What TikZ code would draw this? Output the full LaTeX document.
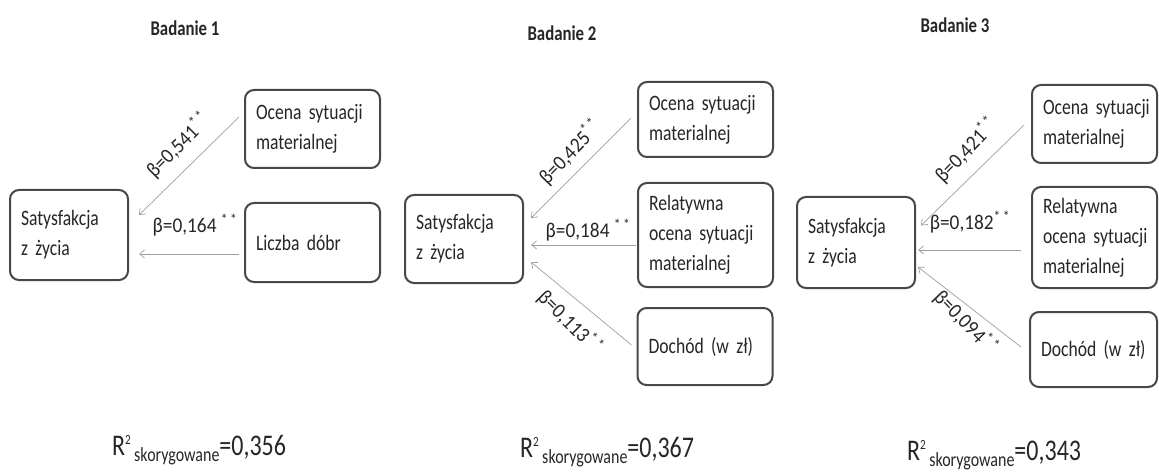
\documentclass[tikz,border=0pt]{standalone}
\usepackage{fontspec}
\setmainfont{Carlito}
\newfontfamily\cf[FakeStretch=0.8]{Carlito}
\newfontfamily\lf[FakeStretch=0.92]{Carlito}
\usetikzlibrary{arrows.meta}
\begin{document}
\begin{tikzpicture}[x=1pt,y=-1pt,
  box/.style={draw=black!72, line width=2pt, rounded corners=9pt, fill=white, align=left,
    inner xsep=11pt, inner ysep=0pt, font=\cf\fontsize{22}{30}\selectfont, anchor=center, text=black!85},
  arr/.style={draw=black!38, line width=0.7pt, -{Straight Barb[length=5pt,width=8pt]}},
  lab/.style={font=\lf\fontsize{21}{21}\selectfont, inner sep=1pt, text=black!85},
  ttl/.style={font=\cf\bfseries\fontsize{21}{21}\selectfont, text=black!85},
  rsq/.style={anchor=base west, inner sep=0pt, font=\cf\fontsize{30}{30}\selectfont, text=black!85},
]
\useasboundingbox (0,0) rectangle (1159,473);
\newcommand{\rtwo}[1]{R\raisebox{11pt}{\fontsize{14}{14}\selectfont 2}\raisebox{-6pt}{\fontsize{20}{20}\selectfont\,skorygowane}=#1}

% titles
\node[ttl] (t1) at (185,28) {Badanie 1};
\node[ttl] (t2) at (562,33) {Badanie 2};
\node[ttl] (t3) at (955,25) {Badanie 3};

% panel 1
\node[box, text width=113pt, minimum height=78pt] (o1) at (312.5,129) {Ocena sytuacji\\materialnej};
\node[box, text width=113pt, minimum height=79pt] (l1) at (312.5,242.5) {Liczba dóbr};
\node[box, text width=96pt, minimum height=90pt] (s1) at (69,235) {Satysfakcja\\z życia};
\draw[arr] ([xshift=-5pt,yshift=12pt]o1.west) -- ([xshift=10pt,yshift=20pt]s1.east);
\draw[arr] ([xshift=-5pt,yshift=-11.5pt]l1.west) -- ([xshift=10pt,yshift=-19pt]s1.east);
\node[lab, rotate=45] (b11) at (178,145) {β=0,541\textsuperscript{*\,*}};
\node[lab] (b12) at (195,225) {β=0,164 \textsuperscript{*\,*}};
\node[rsq] (r1) at (112,455) {\rtwo{0,356}};

% panel 2
\node[box, text width=113pt, minimum height=75pt] (o2) at (705.5,119.5) {Ocena sytuacji\\materialnej};
\node[box, text width=113pt, minimum height=104pt] (r2) at (705.5,235) {Relatywna\\ocena sytuacji\\materialnej};
\node[box, text width=113pt, minimum height=77pt] (d2) at (705,346.5) {Dochód (w zł)};
\node[box, text width=96pt, minimum height=88pt] (s2) at (464,239) {Satysfakcja\\z życia};
\draw[arr] ([xshift=-6pt,yshift=1.5pt]o2.west) -- ([xshift=7pt,yshift=21pt]s2.east);
\draw[arr] ([xshift=-1pt,yshift=-10pt]r2.west) -- ([xshift=7pt,yshift=-6pt]s2.east);
\draw[arr] ([xshift=-5pt,yshift=1.5pt]d2.west) -- ([xshift=7pt,yshift=-23pt]s2.east);
\node[lab, rotate=46] (b21) at (570,152) {β=0,425\textsuperscript{*\,*}};
\node[lab] (b22) at (588,230) {β=0,184 \textsuperscript{*\,*}};
\node[lab, rotate=-45] (b23) at (570,322) {β=0,113\textsuperscript{*\,*}};
\node[rsq] (r2q) at (520,457) {\rtwo{0,367}};

% panel 3
\node[box, text width=103pt, minimum height=78pt] (o3) at (1094.5,124) {\mbox{Ocena sytuacji}\\materialnej};
\node[box, text width=103pt, minimum height=101pt] (r3) at (1094.5,237.5) {Relatywna\\\mbox{ocena sytuacji}\\materialnej};
\node[box, text width=105pt, minimum height=75pt] (d3) at (1093.5,349.5) {Dochód (w zł)};
\node[box, text width=96pt, minimum height=91pt] (s3) at (856,242.5) {Satysfakcja\\z życia};
\draw[arr] ([xshift=-7pt,yshift=-1pt]o3.west) -- ([xshift=5pt,yshift=17pt]s3.east);
\draw[arr] ([xshift=-10pt,yshift=-12.5pt]r3.west) -- ([xshift=2pt,yshift=-7.5pt]s3.east);
\draw[arr] ([xshift=-8pt,yshift=2.5pt]d3.west) -- ([xshift=2pt,yshift=-24.5pt]s3.east);
\node[lab, rotate=46] (b31) at (966,150) {β=0,421\textsuperscript{*\,*}};
\node[lab] (b32) at (970,222) {β=0,182\textsuperscript{*\,*}};
\node[lab, rotate=-46] (b33) at (966,322) {β=0,094\textsuperscript{*\,*}};
\node[rsq] (r3q) at (907,460) {\rtwo{0,343}};
\end{tikzpicture}
\end{document}
